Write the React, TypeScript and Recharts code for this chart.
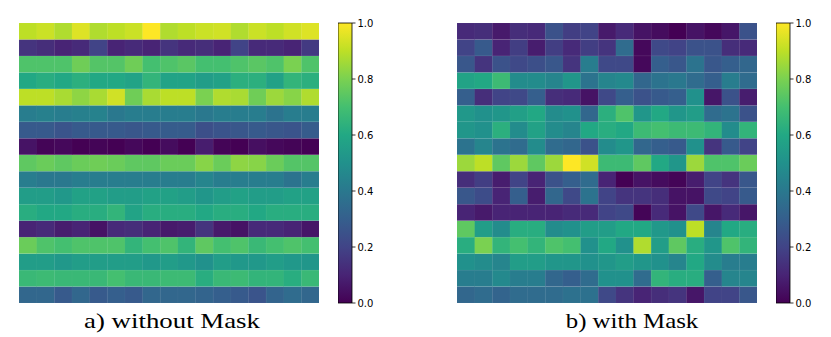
import { BarChart, Bar, XAxis, YAxis, Cell } from 'recharts';

// 17 x 17 attention maps, row 0 is the top row
const WITHOUT_MASK: number[][] = [
  [0.9, 0.92, 0.88, 0.95, 0.88, 0.9, 0.92, 1.0, 0.88, 0.9, 0.92, 0.93, 0.88, 0.92, 0.9, 0.93, 0.95],
  [0.15, 0.13, 0.1, 0.12, 0.2, 0.1, 0.12, 0.1, 0.15, 0.12, 0.13, 0.1, 0.2, 0.12, 0.12, 0.1, 0.17],
  [0.72, 0.72, 0.72, 0.78, 0.73, 0.73, 0.78, 0.7, 0.72, 0.74, 0.7, 0.7, 0.72, 0.74, 0.72, 0.8, 0.72],
  [0.6, 0.62, 0.6, 0.63, 0.6, 0.6, 0.58, 0.65, 0.58, 0.58, 0.55, 0.57, 0.63, 0.63, 0.57, 0.65, 0.63],
  [0.9, 0.9, 0.87, 0.83, 0.87, 0.93, 0.78, 0.87, 0.9, 0.9, 0.8, 0.88, 0.87, 0.78, 0.85, 0.82, 0.88],
  [0.42, 0.43, 0.42, 0.43, 0.44, 0.4, 0.42, 0.42, 0.42, 0.42, 0.4, 0.42, 0.42, 0.42, 0.38, 0.42, 0.42],
  [0.28, 0.28, 0.26, 0.28, 0.28, 0.28, 0.27, 0.28, 0.29, 0.29, 0.24, 0.26, 0.27, 0.28, 0.27, 0.26, 0.29],
  [0.05, 0.01, 0.02, 0.0, 0.01, 0.0, 0.02, 0.0, 0.03, 0.0, 0.08, 0.01, 0.0, 0.04, 0.02, 0.01, 0.0],
  [0.75, 0.77, 0.75, 0.77, 0.78, 0.77, 0.75, 0.75, 0.77, 0.77, 0.82, 0.77, 0.83, 0.82, 0.77, 0.73, 0.73],
  [0.42, 0.4, 0.4, 0.42, 0.42, 0.42, 0.42, 0.42, 0.42, 0.42, 0.45, 0.42, 0.42, 0.42, 0.42, 0.38, 0.42],
  [0.55, 0.55, 0.53, 0.57, 0.57, 0.55, 0.55, 0.57, 0.57, 0.55, 0.52, 0.55, 0.57, 0.55, 0.55, 0.57, 0.57],
  [0.62, 0.6, 0.6, 0.62, 0.62, 0.65, 0.58, 0.62, 0.62, 0.62, 0.6, 0.62, 0.62, 0.6, 0.62, 0.62, 0.62],
  [0.1, 0.12, 0.08, 0.1, 0.05, 0.12, 0.13, 0.1, 0.07, 0.08, 0.15, 0.07, 0.05, 0.12, 0.12, 0.1, 0.06],
  [0.77, 0.72, 0.7, 0.72, 0.72, 0.72, 0.65, 0.7, 0.72, 0.65, 0.75, 0.7, 0.72, 0.67, 0.7, 0.72, 0.7],
  [0.55, 0.55, 0.53, 0.55, 0.55, 0.55, 0.55, 0.53, 0.55, 0.53, 0.5, 0.55, 0.53, 0.53, 0.55, 0.53, 0.52],
  [0.67, 0.68, 0.67, 0.67, 0.67, 0.7, 0.67, 0.67, 0.68, 0.68, 0.62, 0.67, 0.68, 0.65, 0.65, 0.62, 0.67],
  [0.33, 0.33, 0.28, 0.33, 0.28, 0.3, 0.28, 0.33, 0.33, 0.33, 0.32, 0.3, 0.28, 0.26, 0.32, 0.35, 0.33],
];

const WITH_MASK: number[][] = [
  [0.12, 0.13, 0.07, 0.13, 0.12, 0.25, 0.18, 0.2, 0.07, 0.12, 0.05, 0.03, 0.0, 0.05, 0.02, 0.06, 0.25],
  [0.2, 0.28, 0.1, 0.18, 0.08, 0.18, 0.12, 0.18, 0.15, 0.35, 0.02, 0.22, 0.2, 0.25, 0.25, 0.13, 0.12],
  [0.27, 0.15, 0.25, 0.22, 0.24, 0.27, 0.15, 0.42, 0.22, 0.22, 0.02, 0.3, 0.27, 0.38, 0.27, 0.3, 0.33],
  [0.58, 0.6, 0.68, 0.48, 0.48, 0.45, 0.52, 0.38, 0.45, 0.47, 0.33, 0.38, 0.4, 0.35, 0.3, 0.42, 0.35],
  [0.3, 0.13, 0.2, 0.22, 0.3, 0.13, 0.12, 0.05, 0.22, 0.3, 0.25, 0.28, 0.3, 0.5, 0.06, 0.25, 0.08],
  [0.53, 0.5, 0.52, 0.56, 0.6, 0.48, 0.5, 0.33, 0.63, 0.72, 0.52, 0.6, 0.52, 0.55, 0.35, 0.38, 0.25],
  [0.52, 0.5, 0.63, 0.48, 0.57, 0.48, 0.45, 0.6, 0.62, 0.6, 0.68, 0.7, 0.68, 0.68, 0.65, 0.48, 0.65],
  [0.38, 0.45, 0.38, 0.35, 0.48, 0.35, 0.33, 0.25, 0.48, 0.52, 0.33, 0.3, 0.28, 0.5, 0.15, 0.28, 0.2],
  [0.85, 0.9, 0.75, 0.85, 0.75, 0.85, 1.0, 0.93, 0.68, 0.68, 0.75, 0.6, 0.52, 0.85, 0.72, 0.72, 0.77],
  [0.13, 0.18, 0.08, 0.2, 0.1, 0.25, 0.3, 0.35, 0.1, 0.0, 0.05, 0.03, 0.01, 0.08, 0.2, 0.15, 0.27],
  [0.27, 0.23, 0.1, 0.3, 0.08, 0.33, 0.22, 0.38, 0.2, 0.15, 0.15, 0.13, 0.05, 0.05, 0.22, 0.2, 0.28],
  [0.1, 0.07, 0.1, 0.1, 0.1, 0.1, 0.12, 0.12, 0.2, 0.22, 0.01, 0.12, 0.05, 0.22, 0.06, 0.12, 0.06],
  [0.75, 0.55, 0.48, 0.62, 0.62, 0.48, 0.5, 0.55, 0.55, 0.6, 0.6, 0.53, 0.5, 0.9, 0.45, 0.6, 0.62],
  [0.62, 0.8, 0.65, 0.7, 0.65, 0.72, 0.7, 0.5, 0.6, 0.5, 0.88, 0.55, 0.75, 0.62, 0.52, 0.72, 0.65],
  [0.5, 0.48, 0.45, 0.55, 0.55, 0.52, 0.52, 0.5, 0.52, 0.55, 0.52, 0.5, 0.45, 0.6, 0.48, 0.42, 0.42],
  [0.42, 0.42, 0.47, 0.42, 0.42, 0.33, 0.3, 0.35, 0.5, 0.5, 0.35, 0.65, 0.62, 0.62, 0.3, 0.45, 0.45],
  [0.33, 0.35, 0.32, 0.35, 0.35, 0.35, 0.37, 0.37, 0.22, 0.15, 0.1, 0.13, 0.15, 0.06, 0.2, 0.2, 0.27],
];

const COLORBAR_TICKS = [0, 0.2, 0.4, 0.6, 0.8, 1.0];
const CAPTIONS = ['a) without Mask', 'b) with Mask'];

// viridis anchors at 0.0, 0.1, ... 1.0
const VIRIDIS = [
  '#440154', '#482475', '#414487', '#355f8d', '#2a788e', '#21918c',
  '#22a884', '#44bf70', '#7ad151', '#bddf26', '#fde725',
];

function hexToRgb(h: string) {
  return [1, 3, 5].map((i) => parseInt(h.slice(i, i + 2), 16));
}

function viridis(v: number) {
  const t = Math.max(0, Math.min(1, v)) * 10;
  const i = Math.min(9, Math.floor(t));
  const f = t - i;
  const a = hexToRgb(VIRIDIS[i]);
  const b = hexToRgb(VIRIDIS[i + 1]);
  const c = a.map((x, k) => Math.round(x + (b[k] - x) * f));
  return `rgb(${c[0]},${c[1]},${c[2]})`;
}

function Heatmap({ rows, left }: { rows: number[][]; left: number }) {
  const nCols = rows[0].length;
  const data = Array.from({ length: nCols }, (_, c) => {
    const d: Record<string, number> = { col: c };
    rows.forEach((_, r) => (d[`r${r}`] = 1));
    return d;
  });
  // first bar in a stack sits at the bottom, so go from the last row up
  const order = rows.map((_, r) => r).reverse();

  return (
    <div style={{ position: 'absolute', left, top: 23 }}>
      <BarChart
        width={300}
        height={280}
        data={data}
        margin={{ top: 0, right: 0, bottom: 0, left: 0 }}
        barCategoryGap={0}
        barGap={0}
      >
        <XAxis dataKey="col" hide />
        <YAxis hide domain={[0, rows.length]} />
        {order.map((r) => (
          <Bar key={r} dataKey={`r${r}`} stackId="s" isAnimationActive={false}>
            {data.map((_, c) => (
              <Cell
                key={c}
                fill={viridis(rows[r][c])}
                stroke="rgba(255,255,255,0.06)"
                strokeWidth={0.6}
              />
            ))}
          </Bar>
        ))}
      </BarChart>
    </div>
  );
}

function Colorbar({ left, id }: { left: number; id: string }) {
  return (
    <div style={{ position: 'absolute', left, top: 13 }}>
      <BarChart
        width={56}
        height={300}
        data={[{ name: 'cb', v: 1 }]}
        margin={{ top: 10, right: 0, bottom: 10, left: 0 }}
        barCategoryGap={0}
      >
        <defs>
          <linearGradient id={id} x1="0" y1="1" x2="0" y2="0">
            {VIRIDIS.map((c, i) => (
              <stop key={i} offset={`${i * 10}%`} stopColor={c} />
            ))}
          </linearGradient>
        </defs>
        <XAxis dataKey="name" hide />
        <YAxis
          orientation="right"
          width={42}
          domain={[0, 1]}
          ticks={COLORBAR_TICKS}
          tickFormatter={(v: number) => v.toFixed(1)}
          axisLine={false}
          tickLine={{ stroke: '#000', strokeWidth: 0.8 }}
          tickSize={3.5}
          tick={{ fill: '#000', fontSize: 10, fontFamily: 'DejaVu Sans' }}
        />
        <Bar
          dataKey="v"
          fill={`url(#${id})`}
          stroke="#000"
          strokeWidth={0.8}
          isAnimationActive={false}
        />
      </BarChart>
    </div>
  );
}

function Caption({ text, center, stretch }: { text: string; center: number; stretch: number }) {
  return (
    <div
      style={{
        position: 'absolute',
        top: 308,
        left: center - 150,
        width: 300,
        textAlign: 'center',
        fontFamily: '"Liberation Serif", "Times New Roman", serif',
        fontSize: 22,
        color: '#000',
        whiteSpace: 'nowrap',
        transform: `scaleX(${stretch})`,
        transformOrigin: 'center',
      }}
    >
      {text}
    </div>
  );
}

export default function App() {
  return (
    <div
      style={{
        position: 'absolute',
        left: 0,
        top: 0,
        width: 831,
        height: 337,
        background: '#fff',
        overflow: 'hidden',
      }}
    >
      <Heatmap rows={WITHOUT_MASK} left={19} />
      <Colorbar left={338} id="cbA" />
      <Heatmap rows={WITH_MASK} left={457} />
      <Colorbar left={776} id="cbB" />
      <Caption text={CAPTIONS[0]} center={172} stretch={1.22} />
      <Caption text={CAPTIONS[1]} center={631.5} stretch={1.13} />
    </div>
  );
}
